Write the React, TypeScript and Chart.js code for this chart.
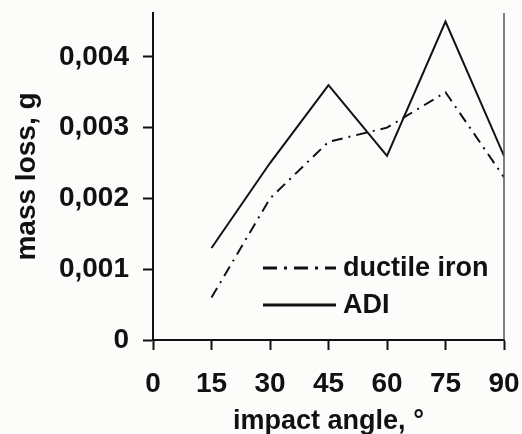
import React, { useEffect, useRef } from "react";
import { Chart, registerables } from "chart.js";

Chart.register(...registerables);

const angles = [15, 30, 45, 60, 75, 90];
const ductileIron = [0.0006, 0.002, 0.0028, 0.003, 0.0035, 0.0023];
const adi = [0.0013, 0.0025, 0.0036, 0.0026, 0.0045, 0.0026];
const xTicks = [0, 15, 30, 45, 60, 75, 90];
const yTicks = [0, 0.001, 0.002, 0.003, 0.004];
const seriesNames = ["ductile iron", "ADI"];
const yMax = 0.00462;

const FONT = "'Liberation Sans', Arial, sans-serif";

const bgPlugin = {
  id: "bg",
  beforeDraw(chart: any) {
    const { ctx, width, height } = chart;
    ctx.save();
    ctx.fillStyle = "#fcfcfa";
    ctx.fillRect(0, 0, width, height);
    ctx.restore();
  },
};

const extrasPlugin = {
  id: "extras",
  afterDraw(chart: any) {
    const { ctx, chartArea } = chart;
    ctx.save();
    // right frame line
    ctx.strokeStyle = "#555";
    ctx.lineWidth = 1.5;
    ctx.beginPath();
    ctx.moveTo(chartArea.right, chartArea.top);
    ctx.lineTo(chartArea.right, chartArea.bottom);
    ctx.stroke();
    // legend
    const items = chart.data.datasets;
    const x0 = chartArea.left + 110;
    const x1 = x0 + 73;
    const ys = [chartArea.top + 255, chartArea.top + 292];
    items.forEach((ds: any, i: number) => {
      ctx.strokeStyle = "#111";
      ctx.lineWidth = 3;
      ctx.setLineDash(ds.borderDash && ds.borderDash.length ? [14, 7, 3, 7] : []);
      ctx.beginPath();
      ctx.moveTo(x0, ys[i]);
      ctx.lineTo(x1, ys[i]);
      ctx.stroke();
      ctx.setLineDash([]);
      ctx.fillStyle = "#111";
      ctx.font = `bold 27px ${FONT}`;
      ctx.textBaseline = "middle";
      ctx.textAlign = "left";
      ctx.fillText(ds.label, x1 + 7, ys[i] + 1);
    });
    ctx.restore();
  },
};

export default function App() {
  const ref = useRef<HTMLCanvasElement>(null);
  useEffect(() => {
    if (!ref.current) return;
    const chart = new Chart(ref.current, {
      type: "line",
      data: {
        datasets: [
          {
            label: seriesNames[0],
            data: angles.map((a, i) => ({ x: a, y: ductileIron[i] })),
            borderColor: "#111",
            borderWidth: 2,
            borderDash: [11, 6, 2, 6],
            pointRadius: 0,
            fill: false,
            tension: 0,
          },
          {
            label: seriesNames[1],
            data: angles.map((a, i) => ({ x: a, y: adi[i] })),
            borderColor: "#111",
            borderWidth: 2,
            borderDash: [],
            pointRadius: 0,
            fill: false,
            tension: 0,
          },
        ],
      },
      options: {
        animation: false,
        responsive: false,
        layout: { padding: { top: 13, right: 18, left: 0, bottom: 0 } },
        plugins: { legend: { display: false }, tooltip: { enabled: false } },
        scales: {
          x: {
            type: "linear",
            min: 0,
            max: 90,
            afterBuildTicks: (s: any) => {
              s.ticks = xTicks.map((v) => ({ value: v }));
            },
            afterFit: (s: any) => {
              s.height = 94;
              s.paddingLeft = 0;
              s.paddingRight = 0;
            },
            grid: {
              drawOnChartArea: false,
              drawTicks: true,
              tickLength: 10,
              tickWidth: 2,
              tickColor: "#111",
            },
            border: { display: true, color: "#111", width: 2 },
            ticks: {
              color: "#111",
              font: { family: FONT, size: 28, weight: "bold" },
              padding: 17,
              maxRotation: 0,
              autoSkip: false,
            },
            title: {
              display: true,
              text: "impact angle, °",
              color: "#111",
              font: { family: FONT, size: 27, weight: "bold", lineHeight: 0.9 },
              padding: { top: 0, bottom: 0 },
            },
          },
          y: {
            type: "linear",
            min: 0,
            max: yMax,
            afterBuildTicks: (s: any) => {
              s.ticks = yTicks.map((v) => ({ value: v }));
            },
            afterFit: (s: any) => {
              s.width = 153;
              s.paddingTop = 0;
              s.paddingBottom = 0;
            },
            grid: {
              drawOnChartArea: false,
              drawTicks: true,
              tickLength: 10,
              tickWidth: 2,
              tickColor: "#111",
            },
            border: { display: true, color: "#111", width: 2 },
            ticks: {
              color: "#111",
              font: { family: FONT, size: 28, weight: "bold" },
              padding: 14,
              autoSkip: false,
              callback: (v: any) => (v === 0 ? "0" : Number(v).toFixed(3).replace(".", ",")),
            },
            title: {
              display: true,
              text: "mass loss, g",
              color: "#111",
              font: { family: FONT, size: 28, weight: "bold", lineHeight: 1.2 },
              padding: { top: 10, bottom: 0 },
            },
          },
        },
      },
      plugins: [bgPlugin, extrasPlugin],
    });
    return () => chart.destroy();
  }, []);
  return (
    <div style={{ position: "fixed", left: 0, top: 0, width: 522, height: 434 }}>
      <canvas ref={ref} width={522} height={434} style={{ display: "block" }} />
    </div>
  );
}
